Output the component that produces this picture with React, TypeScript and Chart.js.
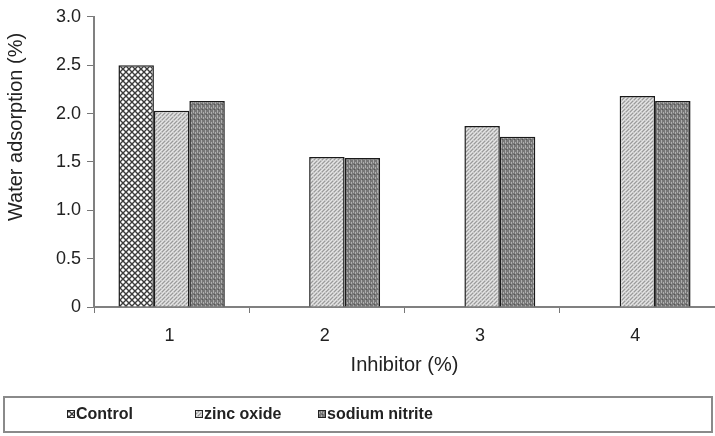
import React, { useEffect, useRef } from "react";
import { Chart, registerables } from "chart.js";

Chart.register(...registerables);

const categories = ["1", "2", "3", "4"];
const seriesNames = ["Control", "zinc oxide", "sodium nitrite"];
const controlValues = [2.5, null, null, null];
const zincOxideValues = [2.03, 1.55, 1.87, 2.18];
const sodiumNitriteValues = [2.13, 1.54, 1.76, 2.13];
const yTicks = [0, 0.5, 1.0, 1.5, 2.0, 2.5, 3.0];
const xTitle = "Inhibitor (%)";
const yTitle = "Water adsorption (%)";

const FONT = "'Liberation Sans', Arial, sans-serif";

function makePattern(kind: string): CanvasPattern | string {
  const c = document.createElement("canvas");
  const g = c.getContext("2d");
  if (!g) return "#999";
  if (kind === "control") {
    c.width = 6;
    c.height = 6;
    g.fillStyle = "#ffffff";
    g.fillRect(0, 0, 6, 6);
    g.strokeStyle = "#3a3a3a";
    g.lineWidth = 1.4;
    g.beginPath();
    g.moveTo(-1, -1);
    g.lineTo(7, 7);
    g.moveTo(7, -1);
    g.lineTo(-1, 7);
    g.stroke();
  } else if (kind === "zinc") {
    c.width = 4;
    c.height = 4;
    g.fillStyle = "#c6c6c6";
    g.fillRect(0, 0, 4, 4);
    g.fillStyle = "#e6e6e6";
    g.fillRect(0, 3, 1, 1);
    g.fillRect(1, 2, 1, 1);
    g.fillRect(2, 1, 1, 1);
    g.fillRect(3, 0, 1, 1);
    g.fillStyle = "#9a9a9a";
    g.fillRect(2, 3, 1, 1);
    g.fillRect(3, 2, 1, 1);
    g.fillRect(0, 1, 1, 1);
  } else {
    c.width = 4;
    c.height = 5;
    g.fillStyle = "#777777";
    g.fillRect(0, 0, 4, 5);
    g.fillStyle = "#adadad";
    g.fillRect(1, 0, 1, 3);
    g.fillRect(3, 2, 1, 2);
    g.fillStyle = "#555555";
    g.fillRect(2, 4, 1, 1);
  }
  const p = g.createPattern(c, "repeat");
  return p || "#999";
}

export default function App() {
  const ref = useRef<HTMLCanvasElement | null>(null);

  useEffect(() => {
    if (!ref.current) return;
    const pControl = makePattern("control");
    const pZinc = makePattern("zinc");
    const pSodium = makePattern("sodium");
    const fills = [pControl, pZinc, pSodium];

    const extrasPlugin = {
      id: "extras",
      afterDraw(chart: any) {
        const ctx = chart.ctx;
        ctx.save();
        // y-axis title
        ctx.save();
        ctx.translate(16, 127);
        ctx.rotate(-Math.PI / 2);
        ctx.font = "20px " + FONT;
        ctx.fillStyle = "#222";
        ctx.textAlign = "center";
        ctx.textBaseline = "middle";
        ctx.fillText(yTitle, 0, 0);
        ctx.restore();
        // legend box
        ctx.strokeStyle = "#8a8a8a";
        ctx.lineWidth = 2;
        ctx.strokeRect(4, 397, 708, 35);
        const xs = [67, 195, 318];
        const yc = 414;
        ctx.font = "bold 16px " + FONT;
        ctx.textBaseline = "middle";
        ctx.textAlign = "left";
        seriesNames.forEach((name, i) => {
          ctx.fillStyle = fills[i] as any;
          ctx.fillRect(xs[i], yc - 4, 8, 8);
          ctx.strokeStyle = "#222";
          ctx.lineWidth = 1;
          ctx.strokeRect(xs[i] + 0.5, yc - 3.5, 7, 7);
          ctx.fillStyle = "#222";
          ctx.fillText(name, xs[i] + 9, yc + 1);
        });
        ctx.restore();
      },
    };

    const chart = new Chart(ref.current, {
      type: "bar",
      data: {
        labels: categories,
        datasets: [
          { label: seriesNames[0], data: controlValues as any, backgroundColor: pControl as any, borderColor: "#1a1a1a", borderWidth: 1.5 },
          { label: seriesNames[1], data: zincOxideValues, backgroundColor: pZinc as any, borderColor: "#1a1a1a", borderWidth: 1.5 },
          { label: seriesNames[2], data: sodiumNitriteValues, backgroundColor: pSodium as any, borderColor: "#1a1a1a", borderWidth: 1.5 },
        ],
      },
      options: {
        responsive: false,
        devicePixelRatio: 1,
        animation: false,
        layout: { padding: { top: 14, right: 0, left: 0, bottom: 0 } },
        datasets: { bar: { categoryPercentage: 0.685, barPercentage: 1 } },
        plugins: { legend: { display: false }, tooltip: { enabled: false } },
        scales: {
          x: {
            grid: { display: true, drawOnChartArea: false, drawTicks: true, tickLength: 6, color: "#777", offset: true },
            border: { display: true, color: "#808080", width: 2 },
            ticks: { color: "#222", font: { family: FONT, size: 18 }, padding: 12, labelOffset: -2, maxRotation: 0 },
            title: { display: true, text: xTitle, color: "#222", font: { family: FONT, size: 20 }, padding: { top: 0, bottom: 59 } },
            afterFit: (s: any) => { s.height = 129; },
          },
          y: {
            min: 0,
            max: 3,
            afterBuildTicks: (s: any) => { s.ticks = yTicks.map((v) => ({ value: v })); },
            grid: { display: true, drawOnChartArea: false, drawTicks: true, tickLength: 7, color: "#777" },
            border: { display: true, color: "#808080", width: 2 },
            ticks: {
              color: "#222",
              font: { family: FONT, size: 18 },
              padding: 6,
              callback: (v: any) => (Number(v) === 0 ? "0" : Number(v).toFixed(1)),
            },
            title: { display: false },
            afterFit: (s: any) => { s.width = 94; },
          },
        },
      },
      plugins: [extrasPlugin],
    });
    return () => chart.destroy();
  }, []);

  return (
    <div style={{ position: "fixed", left: 0, top: 0, width: 715, height: 436, background: "#fff" }}>
      <canvas ref={ref} width={715} height={436} style={{ display: "block", width: 715, height: 436 }} />
    </div>
  );
}
